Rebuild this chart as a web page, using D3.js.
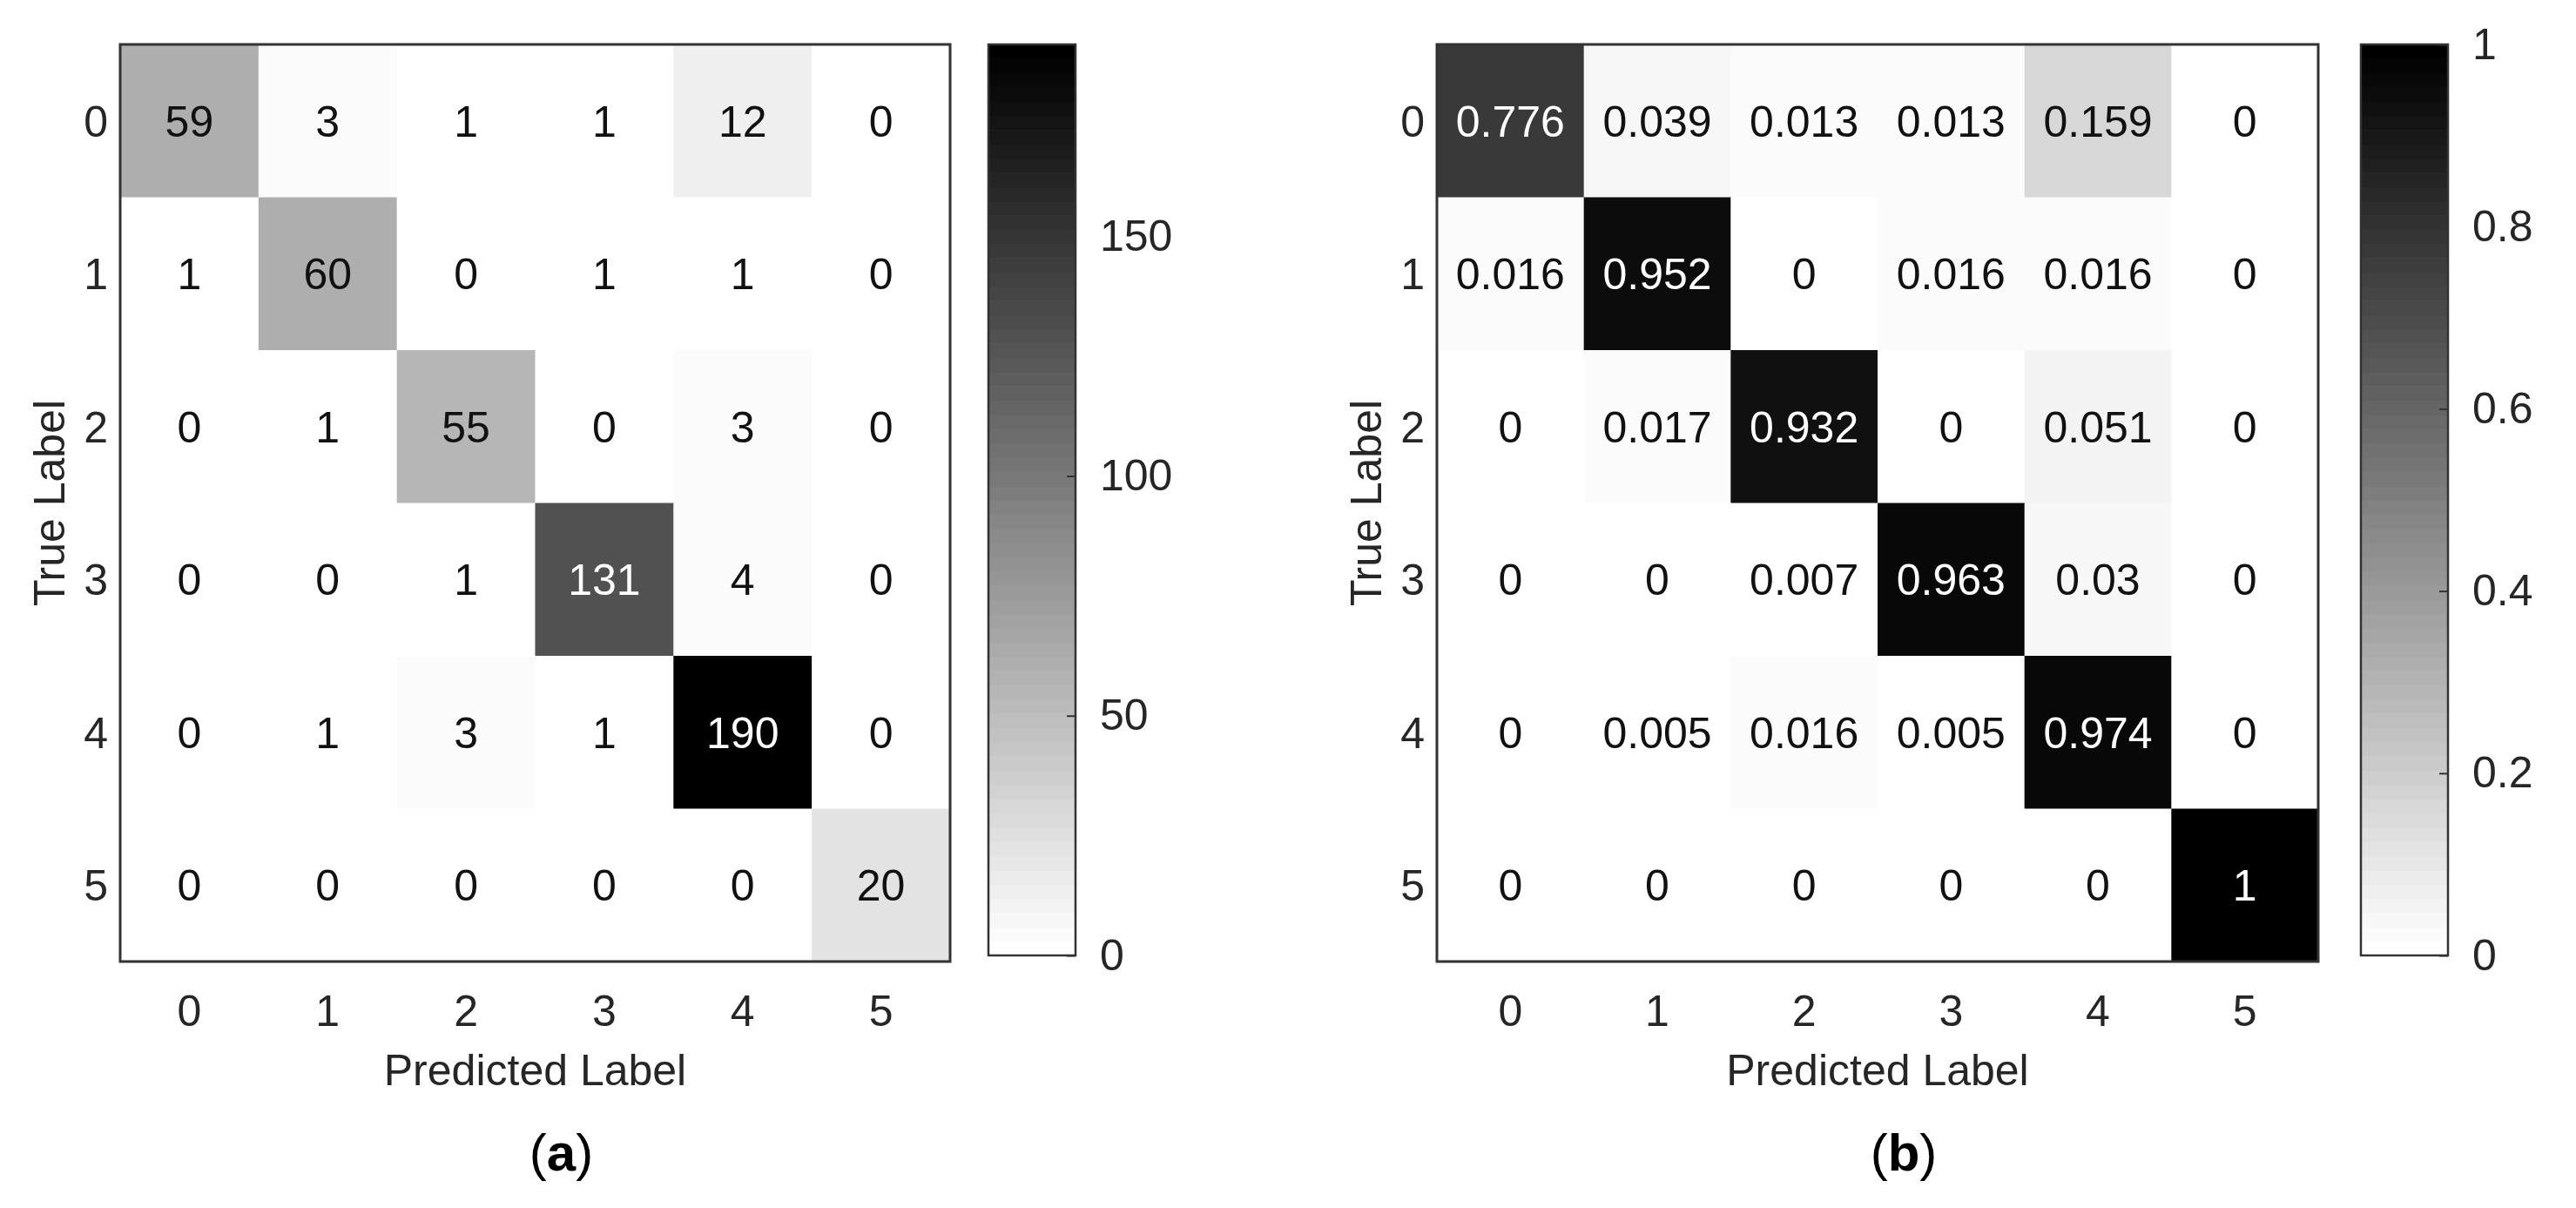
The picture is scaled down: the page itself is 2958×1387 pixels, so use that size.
<!DOCTYPE html>
<html>
<head>
<meta charset="utf-8">
<script src="https://cdn.jsdelivr.net/npm/d3@7"></script>
<style>body{margin:0;background:#fff;} text{font-family:"Liberation Sans",Arial,sans-serif;}</style>
</head>
<body>
<div id="graph"></div>
<script>
const labels = ["0","1","2","3","4","5"];
const countsA = [
  [59,3,1,1,12,0],
  [1,60,0,1,1,0],
  [0,1,55,0,3,0],
  [0,0,1,131,4,0],
  [0,1,3,1,190,0],
  [0,0,0,0,0,20]
];
const ratesB = [
  [0.776,0.039,0.013,0.013,0.159,0],
  [0.016,0.952,0,0.016,0.016,0],
  [0,0.017,0.932,0,0.051,0],
  [0,0,0.007,0.963,0.03,0],
  [0,0.005,0.016,0.005,0.974,0],
  [0,0,0,0,0,1]
];
const ticksA = [0,50,100,150];
const ticksB = [0,0.2,0.4,0.6,0.8,1];

const W = 2958, H = 1387;
const svg = d3.select("#graph").append("svg").attr("width", W).attr("height", H);

function panel(ox, mw, data, vmax, ticks, fmt, caption, cbx) {
  const top = 51, bottom = 1104;
  const g = svg.append("g");
  const x = d3.scaleBand().domain(labels).range([ox, ox + mw]);
  const y = d3.scaleBand().domain(labels).range([top, bottom]);
  // reversed gray map, quantized to 64 levels like matlab
  const shade = v => { const t = Math.min(1, v / vmax); const q = Math.round(t * 63) / 63; const c = Math.round(255 * (1 - q)); return `rgb(${c},${c},${c})`; };
  const cells = [];
  data.forEach((row, i) => row.forEach((v, j) => cells.push({r: labels[i], c: labels[j], v: v})));
  g.selectAll("rect.cell").data(cells).enter().append("rect")
    .attr("x", d => x(d.c)).attr("y", d => y(d.r))
    .attr("width", x.bandwidth() + 0.5).attr("height", y.bandwidth() + 0.5)
    .attr("fill", d => shade(d.v));
  g.selectAll("text.val").data(cells).enter().append("text")
    .attr("x", d => x(d.c) + x.bandwidth() / 2).attr("y", d => y(d.r) + y.bandwidth() / 2)
    .attr("dy", "0.36em").attr("text-anchor", "middle").attr("font-size", 50)
    .attr("fill", d => d.v / vmax > 0.5 ? "#fff" : "#111").text(d => d.v);
  g.append("rect").attr("x", ox).attr("y", top).attr("width", mw).attr("height", bottom - top)
    .attr("fill", "none").attr("stroke", "#333").attr("stroke-width", 3);
  // tick labels
  g.selectAll("text.rl").data(labels).enter().append("text")
    .attr("x", ox - 14).attr("y", d => y(d) + y.bandwidth() / 2).attr("dy", "0.36em")
    .attr("text-anchor", "end").attr("font-size", 50).attr("fill", "#262626").text(d => d);
  g.selectAll("text.cl").data(labels).enter().append("text")
    .attr("x", d => x(d) + x.bandwidth() / 2).attr("y", 1160).attr("dy", "0.36em")
    .attr("text-anchor", "middle").attr("font-size", 50).attr("fill", "#262626").text(d => d);
  g.append("text").attr("x", ox + mw / 2).attr("y", 1228).attr("dy", "0.36em")
    .attr("text-anchor", "middle").attr("font-size", 50).attr("fill", "#262626").text("Predicted Label");
  g.append("text").attr("transform", `translate(${ox - 82},${(top + bottom) / 2}) rotate(-90)`).attr("dy", "0.36em")
    .attr("text-anchor", "middle").attr("font-size", 50).attr("fill", "#262626").text("True Label");
  g.append("text").attr("x", ox + mw / 2 + 30).attr("y", 1322).attr("dy", "0.36em")
    .attr("text-anchor", "middle").attr("font-size", 60).attr("font-family", "Liberation Serif, serif")
    .attr("fill", "#000").html('(<tspan font-weight="bold">' + caption + '</tspan>)');
  // colorbar
  const cbTop = 51, cbBot = 1097, cbw = 100;
  const cy = d3.scaleLinear().domain([0, vmax]).range([cbBot, cbTop]);
  const steps = d3.range(64);
  g.selectAll("rect.cb").data(steps).enter().append("rect")
    .attr("x", cbx).attr("width", cbw)
    .attr("y", d => cy(vmax * (d + 1) / 64)).attr("height", (cbBot - cbTop) / 64 + 0.6)
    .attr("fill", d => shade(vmax * d / 63));
  g.append("rect").attr("x", cbx).attr("y", cbTop).attr("width", cbw).attr("height", cbBot - cbTop)
    .attr("fill", "none").attr("stroke", "#333").attr("stroke-width", 2.5);
  const ax = g.append("g").attr("transform", `translate(${cbx + cbw},0)`)
    .call(d3.axisRight(cy).tickValues(ticks).tickSize(-10).tickPadding(28).tickFormat(fmt));
  ax.select(".domain").remove();
  ax.selectAll("line").attr("stroke", "#333").attr("stroke-width", 2);
  ax.selectAll("text").attr("font-size", 50).attr("fill", "#262626");
}

panel(138, 953, countsA, 190, ticksA, d3.format("d"), "a", 1135);
panel(1650, 1012, ratesB, 1, ticksB, d => d === 0 || d === 1 ? String(d) : d3.format(".1f")(d), "b", 2711);
</script>
</body>
</html>
